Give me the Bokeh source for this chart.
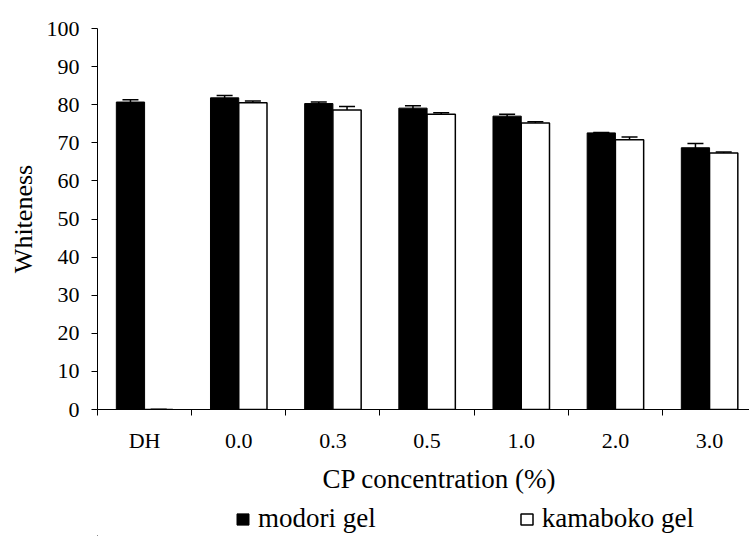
from bokeh.plotting import figure
from bokeh.layouts import column
from bokeh.models import (ColumnDataSource, Range1d, FixedTicker, Whisker, TeeHead,
                          Legend, LegendItem, Title)
from bokeh.embed import file_html
from bokeh.resources import INLINE

categories = ["DH", "0.0", "0.3", "0.5", "1.0", "2.0", "3.0"]
modori = [80.7, 81.8, 80.3, 79.1, 77.0, 72.6, 68.7]
modori_err = [0.6, 0.6, 0.4, 0.6, 0.5, 0.1, 1.1]
kamaboko = [0.0, 80.5, 78.6, 77.5, 75.2, 70.8, 67.3]
kamaboko_err = [0.0, 0.5, 0.9, 0.4, 0.3, 0.7, 0.3]
y_ticks = [0, 10, 20, 30, 40, 50, 60, 70, 80, 90, 100]
series_names = ["modori gel", "kamaboko gel"]

FONT = "Liberation Serif"
idx = list(range(len(categories)))
bw = 0.3

src_m = ColumnDataSource(dict(
    x=[i - bw / 2 for i in idx], top=modori,
    lo=[v - e for v, e in zip(modori, modori_err)],
    hi=[v + e for v, e in zip(modori, modori_err)]))
src_k = ColumnDataSource(dict(
    x=[i + bw / 2 for i in idx], top=kamaboko,
    lo=[v - e for v, e in zip(kamaboko, kamaboko_err)],
    hi=[v + e for v, e in zip(kamaboko, kamaboko_err)]))

p = figure(width=749, height=500, output_backend="svg", toolbar_location=None,
           x_range=Range1d(-0.5, 6.424), y_range=Range1d(0, 100),
           min_border_left=97, min_border_right=0, min_border_top=28,
           min_border_bottom=91)
p.outline_line_color = None
p.xgrid.visible = False
p.ygrid.visible = False

r_m = p.vbar(x="x", top="top", bottom=0, width=bw, source=src_m,
             fill_color="black", line_color="black", line_width=1)
r_k = p.vbar(x="x", top="top", bottom=0, width=bw, source=src_k,
             fill_color="white", line_color="black", line_width=1.5)

for src in (src_m, src_k):
    w = Whisker(source=src, base="x", lower="lo", upper="hi",
                line_color="black", line_width=1.5,
                upper_head=TeeHead(size=16, line_color="black", line_width=1.5),
                lower_head=TeeHead(size=16, line_color="black", line_width=1.5))
    p.add_layout(w)

# y axis
p.yaxis.ticker = FixedTicker(ticks=y_ticks)
p.yaxis.major_tick_out = 6
p.yaxis.major_tick_in = 0
p.yaxis.minor_tick_line_color = None
p.yaxis.axis_line_color = "black"
p.yaxis.major_tick_line_color = "black"
p.yaxis.major_label_text_font = FONT
p.yaxis.major_label_text_font_size = "22px"
p.yaxis.major_label_text_color = "black"
p.yaxis.major_label_standoff = 12
p.yaxis.axis_label = "Whiteness"
p.yaxis.axis_label_text_font = FONT
p.yaxis.axis_label_text_font_size = "26px"
p.yaxis.axis_label_text_font_style = "normal"
p.yaxis.axis_label_text_color = "black"
p.yaxis.axis_label_standoff = 6

# x axis: labels at category centres, ticks at category boundaries
p.xaxis.ticker = FixedTicker(ticks=idx, minor_ticks=[i - 0.5 for i in idx] + [len(idx) - 0.5])
p.xaxis.major_label_overrides = {i: c for i, c in zip(idx, categories)}
p.xaxis.major_tick_line_color = None
p.xaxis.major_tick_out = 6
p.xaxis.major_tick_in = 0
p.xaxis.minor_tick_out = 6
p.xaxis.minor_tick_in = 0
p.xaxis.minor_tick_line_color = "black"
p.xaxis.axis_line_color = "black"
p.xaxis.major_label_text_font = FONT
p.xaxis.major_label_text_font_size = "22px"
p.xaxis.major_label_text_color = "black"
p.xaxis.major_label_standoff = 12

xtitle = Title(text="CP concentration (%)", align="left", offset=225,
               text_font=FONT, text_font_size="27px", text_font_style="normal",
               text_color="black", standoff=12)
p.add_layout(xtitle, "below")

# legend strip below the chart (its swatch renderers share the data but lie out of view)
p2 = figure(width=749, height=36, output_backend="svg", toolbar_location=None,
            x_range=Range1d(1000, 1001), y_range=Range1d(1000, 1001),
            min_border_left=0, min_border_right=0, min_border_top=0,
            min_border_bottom=0, x_axis_location=None, y_axis_location=None)
p2.outline_line_color = None
p2.xgrid.visible = False
p2.ygrid.visible = False
sw_m = p2.vbar(x="x", top="top", bottom=0, width=bw, source=src_m,
               fill_color="black", line_color="black", line_width=1)
sw_k = p2.vbar(x="x", top="top", bottom=0, width=bw, source=src_k,
               fill_color="white", line_color="black", line_width=1.5)

legend = Legend(items=[LegendItem(label=series_names[0], renderers=[sw_m]),
                       LegendItem(label=series_names[1], renderers=[sw_k])],
                location=(138, 2), orientation="horizontal",
                glyph_width=15, glyph_height=14, label_standoff=8, spacing=143,
                padding=0, margin=0, border_line_color=None,
                background_fill_alpha=0, label_text_font=FONT,
                label_text_font_size="27px", label_text_color="black")
p2.add_layout(legend)

layout = column(p, p2, spacing=0)
open("out.html", "w").write(file_html(layout, INLINE))
